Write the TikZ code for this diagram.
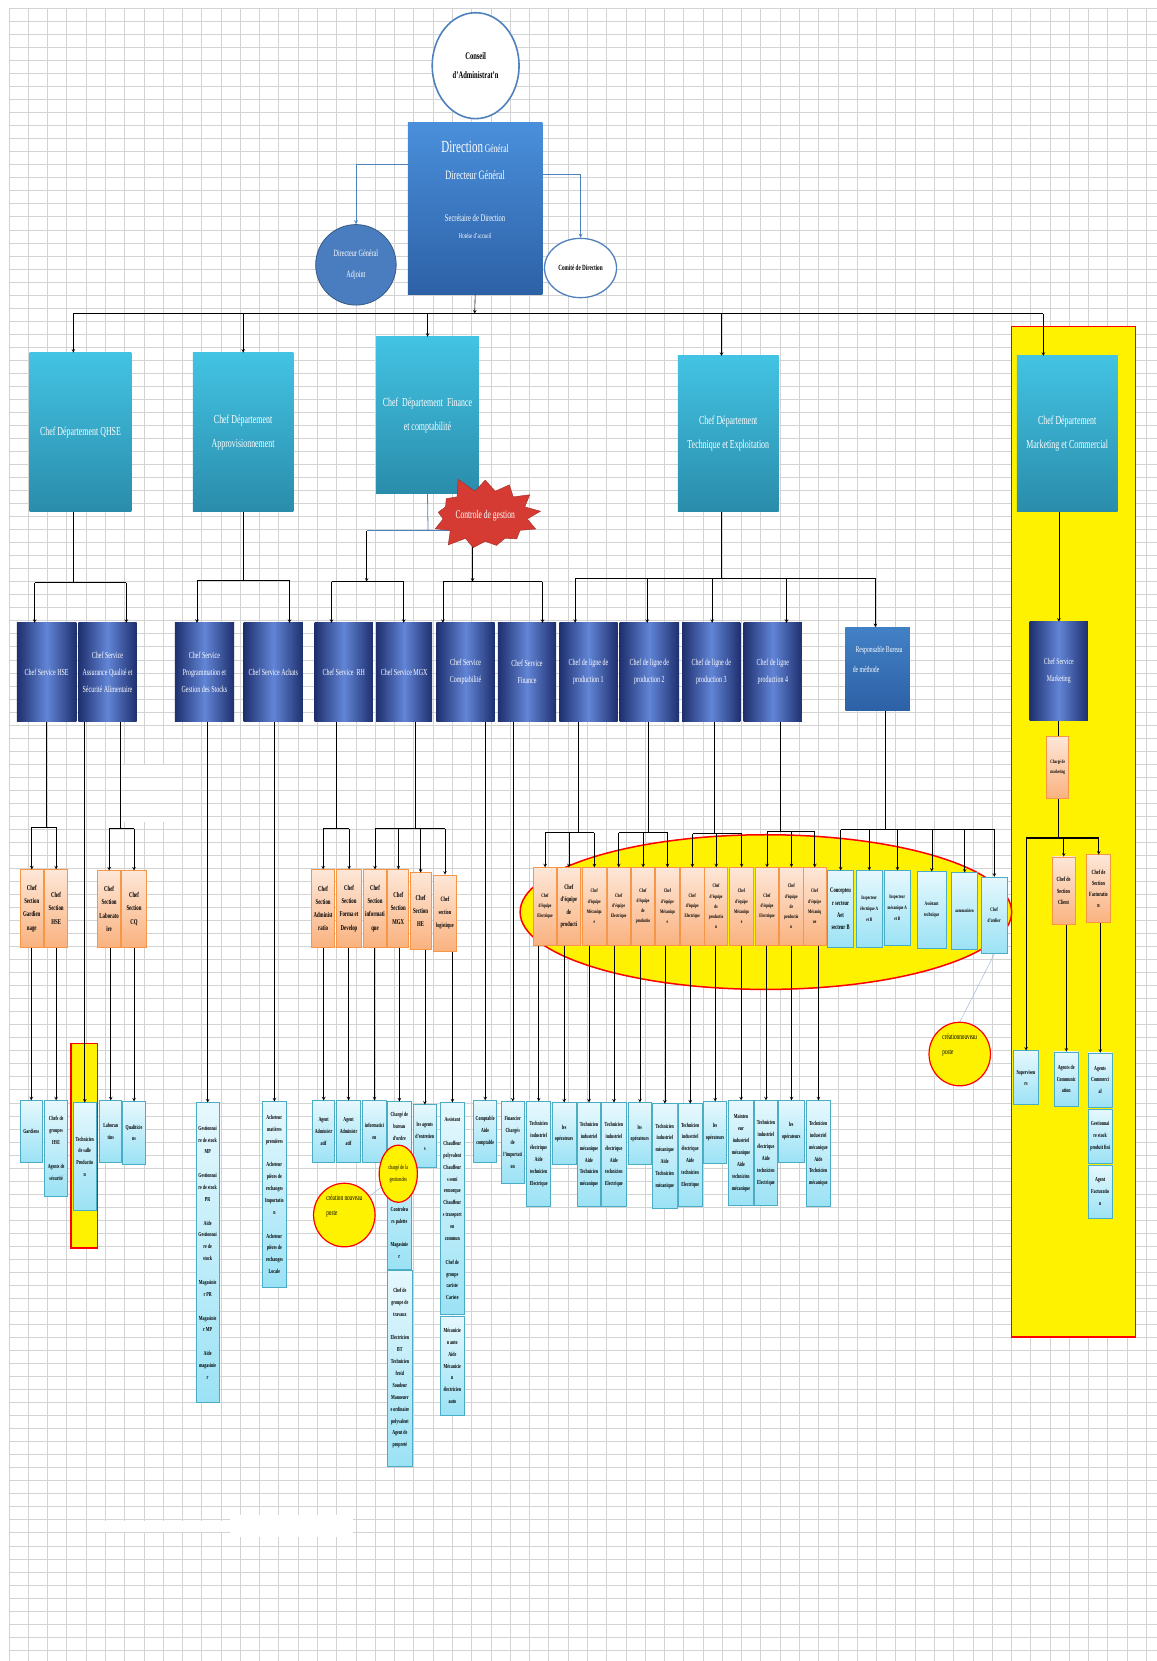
\documentclass[tikz,border=0pt]{standalone}
\usepackage{fontspec}
\setmainfont{Liberation Serif}[FakeStretch=0.65]
\usepackage{tikz}
\usetikzlibrary{positioning}
\usetikzlibrary{calc}
\usetikzlibrary{shapes.geometric}
\usetikzlibrary{shapes.symbols}

\definecolor{gridgray}{HTML}{D3D3D3}
\definecolor{depttop}{HTML}{43C3E3}
\definecolor{deptbot}{HTML}{2A8CAB}
\definecolor{navyd}{HTML}{1E2F6E}
\definecolor{navyl}{HTML}{6285D6}
\definecolor{dirtop}{HTML}{4A8FDB}
\definecolor{dirbot}{HTML}{2D61A6}
\definecolor{dgablue}{HTML}{4A7DBF}
\definecolor{ortop}{HTML}{FDE7D8}
\definecolor{orbot}{HTML}{FAB27F}
\definecolor{orline}{HTML}{F79646}
\definecolor{lttop}{HTML}{E6F8FD}
\definecolor{ltbot}{HTML}{9BE2F5}
\definecolor{ltline}{HTML}{4BACC6}
\definecolor{linkblue}{HTML}{4F81BD}
\definecolor{starred}{HTML}{D63B33}

\begin{document}
\begin{tikzpicture}[x=1pt, y=-1pt, scale=1.0595, transform shape,
    dept/.style={rectangle, top color=depttop, bottom color=deptbot, text=white, align=center, inner sep=1pt, font=\fontsize{11.5}{23}\selectfont},
    svc/.style={rectangle, left color=navyd, right color=navyd, middle color=navyl, text=white, align=center, inner sep=1pt, minimum height=93, font=\fontsize{8.7}{16}\selectfont},
    sec/.style={rectangle, top color=ortop, bottom color=orbot, draw=orline, thick, align=center, inner sep=0.5pt, font=\bfseries\fontsize{7}{12.5}\selectfont},
    sectech/.style={sec, minimum height=73, font=\bfseries\fontsize{5}{9.5}\selectfont},
    job/.style={rectangle, top color=lttop, bottom color=ltbot, draw=ltline, thick, align=center, inner sep=0.5pt, font=\bfseries\fontsize{5.8}{11.2}\selectfont},
    newpost/.style={ellipse, fill=yellow, draw=red, very thick, align=left, inner sep=0pt, font=\fontsize{7.6}{14}\selectfont},
    dirtxt/.style={text=white, inner sep=0pt},
    hilite/.style={draw=red, line width=1.5pt, fill=yellow},
    gridln/.style={gridgray, line width=0.9pt},
    toplink/.style={linkblue, thick, ->, >=stealth},
    arr/.style={->, >=stealth, black, semithick},
    busln/.style={black, line width=1.3pt},
    ]
\useasboundingbox (0,0) rectangle (1092,1568);
\fill[white] (0,0) rectangle (1092,1568);

% background grid
\foreach \gx in {8.5,26.7,...,1092} \draw[gridln] (\gx,8) -- (\gx,1568);
\foreach \gy in {8,20.3,...,1568} \draw[gridln] (8.5,\gy) -- (1092,\gy);
\fill[white] (103,722) rectangle (167,776);
\foreach \gy in {733.7,746,758.3,770.6} \draw[gridln] (103,\gy) -- (167,\gy);
\fill[white] (85,1436) rectangle (217,1446);
\fill[white] (217,1430) rectangle (333,1451);

% highlighted zones
\draw[hilite] (955,308) rectangle (1072,1262);
\draw[hilite] (723,861) ellipse [x radius=232, y radius=73];
\draw[hilite] (67,985) rectangle (92,1178);

% top
\node[ellipse, draw=linkblue, line width=1.6pt, fill=white, minimum width=82, minimum height=100, align=center, font=\bfseries\fontsize{9.5}{18}\selectfont] (conseil) at (449,62) {Conseil\\d'Administrat'n};
\node[rectangle, top color=dirtop, bottom color=dirbot, minimum width=127, minimum height=162] (dir) at (448.5,197) {};
\node[dirtxt] (dirname) at (448.5,139) {{\fontsize{16}{18}\selectfont Direction} {\fontsize{11}{13}\selectfont Général}};
\node[dirtxt, font=\fontsize{12}{13}\selectfont] (dirdg) at (448.5,165) {Directeur Général};
\node[dirtxt, font=\fontsize{9.5}{11}\selectfont] (dirsec) at (448.5,206) {Secrétaire de Direction};
\node[dirtxt, font=\fontsize{7}{8}\selectfont] (dirhot) at (448.5,223) {Hotése d'accueil};
\node[circle, fill=dgablue, draw=linkblue!70!black, thick, minimum size=76, text=white, align=center, inner sep=0pt, font=\fontsize{9}{20}\selectfont] (dga) at (336,250) {Directeur Général\\Adjoint};
\node[ellipse, draw=linkblue, line width=1.3pt, fill=white, minimum width=68, minimum height=56, inner sep=0pt, font=\bfseries\fontsize{7.5}{9}\selectfont] (comite) at (548,253) {Comité de Direction};

\draw[toplink] ($(dir.north west)!0.24!(dir.south west)$) -| (dga.north);
\draw[toplink] ($(dir.north east)!0.30!(dir.south east)$) -| (comite.north);

% departments
\node[dept, minimum width=96, minimum height=150] (qhse) at (76,408) {Chef Département QHSE};
\node[dept, minimum width=95, minimum height=150] (appro) at (229.5,408) {Chef Département\\Approvisionnement};
\node[dept, minimum width=97, minimum height=148] (fin) at (403.5,392) {Chef~ Département~ Finance\\et comptabilité};
\node[dept, minimum width=95, minimum height=147] (tech) at (687.5,409.5) {Chef Département\\Technique et Exploitation};
\node[dept, minimum width=95, minimum height=147] (mkt) at (1007.5,409.5) {Chef Département\\Marketing et Commercial};

\coordinate (topbus) at (448,296);
\foreach \dnode/\dfrac in {qhse/0.43, appro/0.5, fin/0.5, tech/0.43, mkt/0.26}
  \coordinate (in\dnode) at ($(\dnode.north west)!\dfrac!(\dnode.north east)$);
\draw[arr] (dir.south) -- (topbus);
\draw[busln] (topbus -| inqhse) -- (topbus -| inmkt);
\foreach \dnode in {qhse,appro,fin,tech,mkt} \draw[arr] (topbus -| in\dnode) -- (in\dnode);

% services
\node[svc, minimum width=56] (hse) at (44,634.5) {Chef Service HSE};
\node[svc, minimum width=55] (aq) at (101.5,634.5) {Chef Service\\Assurance Qualité et\\Sécurité Alimentaire};
\node[svc, minimum width=56] (prog) at (193,634.5) {Chef Service\\Programmation et\\Gestion des Stocks};
\node[svc, minimum width=56] (ach) at (258,634.5) {Chef Service Achats};
\node[svc, minimum width=55] (rh) at (324.5,634.5) {Chef Service~ RH};
\node[svc, minimum width=53] (mgx) at (381.5,634.5) {Chef Service MGX};
\node[svc, minimum width=55] (compta) at (439.5,634.5) {Chef Service\\Comptabilité};
\node[svc, minimum width=55] (finsvc) at (497.5,634.5) {Chef Service\\Finance};
\node[svc, minimum width=55] (l1) at (555.5,634.5) {Chef de ligne de\\production 1};
\node[svc, minimum width=56] (l2) at (613,634.5) {Chef de ligne de\\production 2};
\node[svc, minimum width=55] (l3) at (671.5,634.5) {Chef de ligne de\\production 3};
\node[svc, minimum width=55] (l4) at (729.5,634.5) {Chef de ligne\\production 4};
\node[rectangle, top color=dirtop!90!black, bottom color=dirbot, minimum width=61, minimum height=79, text=white, align=left, inner sep=1pt, font=\fontsize{8.3}{18}\selectfont] (resp) at (828.5,631.5) {~~Responsable Bureau\\de méthode\\~};
\node[svc, minimum width=55, font=\fontsize{8.3}{16}\selectfont] (msvc) at (999.5,633.5) {Chef Service\\Marketing};

\foreach \dnode/\dfrac in {hse/0.3, aq/0.82, prog/0.375, ach/0.77, rh/0.29, mgx/0.49, compta/0.11, finsvc/0.76,
    l1/0.27, l2/0.46, l3/0.51, l4/0.73, resp/0.46}
  \coordinate (in\dnode) at ($(\dnode.north west)!\dfrac!(\dnode.north east)$);

\coordinate (qbus) at (0,550);
\draw[semithick] (qhse.south -| inqhse) -- (qbus -| inqhse);
\draw[busln] (qbus -| inhse) -- (qbus -| inaq);
\foreach \sv in {hse,aq} \draw[arr] (qbus -| in\sv) -- (in\sv);

\coordinate (abus) at (0,548);
\draw[semithick] (appro.south) -- (appro.south |- abus);
\draw[busln] (abus -| inprog) -- (abus -| inach);
\foreach \sv in {prog,ach} \draw[arr] (abus -| in\sv) -- (in\sv);

\coordinate (finjoin) at (404,501);
\coordinate (finleft) at (346,501);
\coordinate (finright) at (446,501);
\coordinate (fbusl) at (346,549);
\coordinate (fbusr) at (446,549);
\draw[linkblue, thick] (fin.south) -- (finjoin);
\draw[linkblue, thick] (finleft) -- (finright);
\draw[arr] (finleft) -- (fbusl);
\draw[busln] (fbusl -| inrh) -- (fbusl -| inmgx);
\foreach \sv in {rh,mgx} \draw[arr] (fbusl -| in\sv) -- (in\sv);
\draw[arr] (finright) -- (fbusr);
\draw[busln] (fbusr -| incompta) -- (fbusr -| infinsvc);
\foreach \sv in {compta,finsvc} \draw[arr] (fbusr -| in\sv) -- (in\sv);
\node[starburst, starburst points=13, starburst point height=16pt, random starburst=5, fill=starred, draw=starred!75!black, text=white, minimum width=112pt, minimum height=80pt, inner sep=0pt, font=\fontsize{11}{13}\selectfont] (cdg) at (458,487) {Controle de gestion};

\coordinate (tbus) at (0,546);
\draw[semithick] (tech.south -| intech) -- (tbus -| intech);
\draw[busln] (tbus -| inl1) -- (tbus -| inresp);
\foreach \sv in {l1,l2,l3,l4,resp} \draw[arr] (tbus -| in\sv) -- (in\sv);

\draw[arr] (mkt.south -| msvc.north) -- (msvc.north);

% sections
\node[sec, minimum width=22, minimum height=73] (gard) at (30,857.5) {Chef\\Section\\Gardien\\nage};
\node[sec, minimum width=22, minimum height=73] (shse) at (53,857.5) {Chef\\Section\\HSE};
\node[sec, minimum width=22, minimum height=72] (labo) at (103,858) {Chef\\Section\\Laborato\\ire};
\node[sec, minimum width=23, minimum height=72] (cq) at (126.5,858) {Chef\\Section\\CQ};
\node[sec, minimum width=22, minimum height=73] (sadm) at (305,857.5) {Chef\\Section\\Administ\\ratio};
\node[sec, minimum width=23, minimum height=73] (sform) at (329.5,857.5) {Chef\\Section\\Forma et\\Develop};
\node[sec, minimum width=22, minimum height=73] (sinfo) at (354,857.5) {Chef\\Section\\informati\\que};
\node[sec, minimum width=20, minimum height=73] (smgx) at (376,857.5) {Chef\\Section\\MGX};
\node[sec, minimum width=20, minimum height=72] (she) at (397,860) {Chef\\Section\\HE};
\node[sec, minimum width=22, minimum height=72, font=\bfseries\fontsize{6.2}{12.5}\selectfont] (slog) at (420,862) {Chef\\section\\logistique};

\coordinate (hsebus) at (0,781);
\draw[semithick] (hse.south) -- (hse.south |- hsebus);
\draw[busln] (hsebus -| gard.north) -- (hsebus -| shse.north);
\foreach \sv in {gard,shse} \draw[arr] (hsebus -| \sv.north) -- (\sv.north);

\coordinate (aqbus) at (114,782);
\draw[semithick] (aq.south -| aqbus) -- (aqbus);
\draw[busln] (aqbus -| labo.north) -- (aqbus -| cq.north);
\foreach \sv in {labo,cq} \draw[arr] (aqbus -| \sv.north) -- (\sv.north);

\coordinate (rhbus) at (317,782);
\draw[semithick] (rh.south -| rhbus) -- (rhbus);
\draw[busln] (rhbus -| sadm.north) -- (rhbus -| sform.north);
\foreach \sv in {sadm,sform} \draw[arr] (rhbus -| \sv.north) -- (\sv.north);

\coordinate (mgxbus) at (392,782);
\draw[semithick] (mgx.south -| mgxbus) -- (mgxbus);
\draw[busln] (mgxbus -| sinfo.north) -- (mgxbus -| slog.north);
\foreach \sv in {sinfo,smgx,she,slog} \draw[arr] (mgxbus -| \sv.north) -- (\sv.north);

% technique sections
\foreach \n/\x/\t in {e1/514.5/{Chef\\d'équipe\\Electrique}, k1/561/{Chef\\d'équipe\\Mécaniqu\\e},
    e2/584/{Chef\\d'équipe\\Electrique}, p2/607/{Chef\\d'équipe\\de\\productio}, k2/630/{Chef\\d'équipe\\Mécaniqu\\e},
    e3/653.5/{Chef\\d'équipe\\Electrique}, p3/676/{Chef\\d'équipe\\de\\productio\\n}, k3/700/{Chef\\d'équipe\\Mécaniqu\\e},
    e4/724/{Chef\\d'équipe\\Electrique}, p4/747/{Chef\\d'équipe\\de\\productio\\n}, k4/769/{Chef\\d'équipe\\Mécaniq\\ue}}
  \node[sectech, minimum width=22] (\n) at (\x,855.5) {\t};
\node[sectech, minimum width=22, font=\bfseries\fontsize{6.5}{11.5}\selectfont] (p1) at (537,855.5) {Chef\\d'équipe\\de\\producti};

\node[job, minimum width=25, minimum height=72, font=\bfseries\fontsize{6.6}{11.5}\selectfont] (conc) at (793.5,858) {Concepteu\\r secteur\\Aet\\secteur B};
\node[job, minimum width=25, minimum height=72, font=\bfseries\fontsize{5}{10.5}\selectfont] (inse) at (820.5,858) {Inspecteur\\électrique A\\et B};
\node[job, minimum width=24, minimum height=70, font=\bfseries\fontsize{5}{10.5}\selectfont] (insm) at (847,857) {Inspecteur\\mécanique A\\et B};
\node[job, minimum width=27, minimum height=72, font=\bfseries\fontsize{5.2}{10.5}\selectfont] (asst) at (879.5,859) {Assistant\\technique};
\node[job, minimum width=25, minimum height=72, font=\bfseries\fontsize{4.8}{10}\selectfont] (auto) at (910.5,860) {automaticien};
\node[job, minimum width=25, minimum height=72, font=\bfseries\fontsize{5.2}{10.5}\selectfont] (chefat) at (938.5,864) {Chef\\d'atelier};

\foreach \b/\bx/\by/\kids in {l1/546/786/{e1,p1,k1}, l2/612/786/{e2,p2,k2}, l3/674/787/{e3,p3,k3}, l4/736/785/{e4,p4,k4}, resp/836/783/{conc,inse,insm,asst,auto,chefat}} {
  \coordinate (\b bus) at (\bx,\by);
  \draw[semithick] (\b.south -| \b bus) -- (\b bus);
  \foreach \sv [count=\i] in \kids {
    \ifnum\i=1 \coordinate (\b first) at (\sv.north); \fi
    \coordinate (\b last) at (\sv.north);
    \draw[arr] (\b bus -| \sv.north) -- (\sv.north);
  }
  \draw[busln] (\b bus -| \b first) -- (\b bus -| \b last);
}

% jobs
\node[job, minimum width=21, minimum height=58] (gardiens) at (29.5,1068) {Gardiens};
\node[job, minimum width=22, minimum height=90] (chefgrp) at (53,1084) {Chefs de\\groupes\\HSE\\~\\Agents de\\sécurité};
\node[job, minimum width=22, minimum height=102] (techsalle) at (80,1092) {Technicien\\de salle\\Productio\\n};
\node[job, minimum width=21, minimum height=58] (laborantins) at (104.5,1068) {Laboran\\tins};
\node[job, minimum width=21, minimum height=59] (qualit) at (126.5,1069.5) {Qualiticie\\ns};
\node[job, minimum width=22, minimum height=283] (gest) at (196,1182.5) {Gestionnai\\re de stock\\MP\\~\\Gestionnai\\re de stock\\PR\\~\\Aide\\Gestionnai\\re de\\stock\\~\\Magasinie\\r PR\\~\\Magasinie\\r MP\\~\\Aide\\magasinie\\r};
\node[job, minimum width=22, minimum height=175] (achet) at (259,1127.5) {Acheteur\\matières\\premières\\~\\Acheteur\\pièces de\\rechanges\\Importatio\\n\\~\\Acheteur\\pièces de\\rechanges\\Locale};
\node[job, minimum width=21, minimum height=58] (agadma) at (305.5,1068) {Agent\\Administr\\atif};
\node[job, minimum width=22, minimum height=58] (agadmb) at (329,1068) {Agent\\Administr\\atif};
\node[job, minimum width=23, minimum height=58] (infoen) at (353.5,1068) {informatici\\en};
\node[job, minimum width=22, minimum height=158] (charge) at (377,1119) {Chargé de\\bureau\\d'ordre\\~\\~\\~\\~\\~\\Controleu\\rs palette\\~\\Magasinie\\r};
\node[job, minimum width=23, minimum height=185] (chefgt) at (377.5,1291.5) {Chef de\\groupe de\\travaux\\~\\Electricien\\BT\\Technicien\\froid\\Soudeur\\Manoeuvr\\e ordinaire\\polyvalent\\Agent de\\propreté};
\node[job, minimum width=22, minimum height=59] (agentent) at (401,1072.5) {les agents\\d'entretien\\s};
\node[job, minimum width=22, minimum height=200] (assist) at (427,1141) {Assistant\\~\\Chauffeur\\polyvalent\\Chauffeur\\s semi\\remorque\\Chauffeur\\s transport\\en\\commun\\~\\Chef de\\groupe\\cariste\\Cariste};
\node[job, minimum width=22, minimum height=93] (meca) at (427,1289.5) {Mécanicie\\n auto\\Aide\\Mécanicie\\n\\électricien\\auto};
\node[job, minimum width=22, minimum height=58] (comptable) at (458,1068) {Comptable\\Aide\\comptable};
\node[job, minimum width=22, minimum height=77] (financier) at (484,1078.5) {Financier\\Chargés\\de\\l'importati\\on};

\foreach \n/\x/\y/\w/\h/\t in {t1/508.5/1089.5/23/99/{Technicien\\industriel\\électrique\\Aide\\technicien\\Electrique},
    o1/532.5/1070/23/58/{les\\opérateurs},
    m1/556/1090/22/98/{Technicien\\industriel\\mécanique\\Aide\\Technicien\\mécanique},
    t2/579.5/1090/23/98/{Technicien\\industriel\\électrique\\Aide\\technicien\\Electrique},
    o2/604/1070/22/58/{les\\opérateurs},
    m2/627.5/1091.5/23/99/{Technicien\\industriel\\mécanique\\Aide\\Technicien\\mécanique},
    t3/651.5/1090.5/23/97/{Technicien\\industriel\\électrique\\Aide\\technicien\\Electrique},
    o3/675/1069/22/58/{les\\opérateurs},
    m3/699.5/1088.5/23/99/{Mainten\\eur\\industriel\\mécanique\\Aide\\technicien\\mécanique},
    t4/723/1088.5/22/99/{Technicien\\industriel\\électrique\\Aide\\technicien\\Electrique},
    o4/747/1068/24/58/{les\\opérateurs},
    m4/772.5/1089/23/100/{Technicien\\industriel\\mécanique\\Aide\\Technicien\\mécanique}}
  \node[job, minimum width=\w, minimum height=\h] (\n) at (\x,\y) {\t};

\foreach \a/\b in {gard/gardiens, shse/chefgrp, aq/techsalle, labo/laborantins, cq/qualit, prog/gest, ach/achet,
    sadm/agadma, sform/agadmb, sinfo/infoen, smgx/charge, she/agentent, slog/assist, compta/comptable, finsvc/financier,
    e1/t1, p1/o1, k1/m1, e2/t2, p2/o2, k2/m2, e3/t3, p3/o3, k3/m3, e4/t4, p4/o4, k4/m4}
  \draw[arr] (\a.south -| \b.north) -- (\b.north);

% marketing
\node[sec, minimum width=21, minimum height=59, font=\bfseries\fontsize{4.8}{9}\selectfont] (chmkt) at (998.5,724.5) {Chargé de\\marketing};
\node[sec, minimum width=22, minimum height=64, font=\bfseries\fontsize{6}{10.5}\selectfont] (sclient) at (1004,841) {Chef de\\Section\\Client};
\node[sec, minimum width=22, minimum height=64, font=\bfseries\fontsize{6}{10.5}\selectfont] (sfact) at (1037,839) {Chef de\\Section\\Facturatio\\n};
\node[job, minimum width=23, minimum height=51] (superv) at (968.5,1017.5) {Superviseu\\rs};
\node[job, minimum width=23, minimum height=51] (agcomm) at (1006.5,1018.5) {Agents de\\Communic\\ation};
\node[job, minimum width=23, minimum height=51] (agcom) at (1038.5,1019.5) {Agents\\Commerci\\al};
\node[job, minimum width=23, minimum height=51] (gestpf) at (1038.5,1072.5) {Gestionnai\\re stock\\produit fini};
\node[job, minimum width=23, minimum height=50] (agfact) at (1038.5,1125) {Agent\\Facturatio\\n};

\draw[semithick] (msvc.south -| chmkt.north) -- (chmkt.north);
\coordinate (mbus) at (998.5,791);
\draw[semithick] (chmkt.south) -- (mbus);
\draw[busln] (mbus -| superv.north) -- (mbus -| sfact.north);
\foreach \sv in {superv,sclient,sfact} \draw[arr] (mbus -| \sv.north) -- (\sv.north);
\draw[arr] (sclient.south -| agcomm.north) -- (agcomm.north);
\draw[arr] (sfact.south -| agcom.north) -- (agcom.north);

% new posts
\node[newpost, minimum width=36, minimum height=54, align=center, font=\fontsize{6}{11}\selectfont] (chg) at (376,1108) {chargé de la\\gestiondes};
\node[newpost, minimum width=58, minimum height=60] (cnpa) at (325,1147) {création nouveau\\poste\\[4pt]~};
\node[newpost, minimum width=58, minimum height=60] (cnpb) at (906,995) {créationnouveau\\poste\\[4pt]~};
\draw[linkblue!60, thin] (cnpa) -- (chg);
\draw[linkblue!60, thin] (chefat.south) -- (cnpb.north);
\end{tikzpicture}
\end{document}
